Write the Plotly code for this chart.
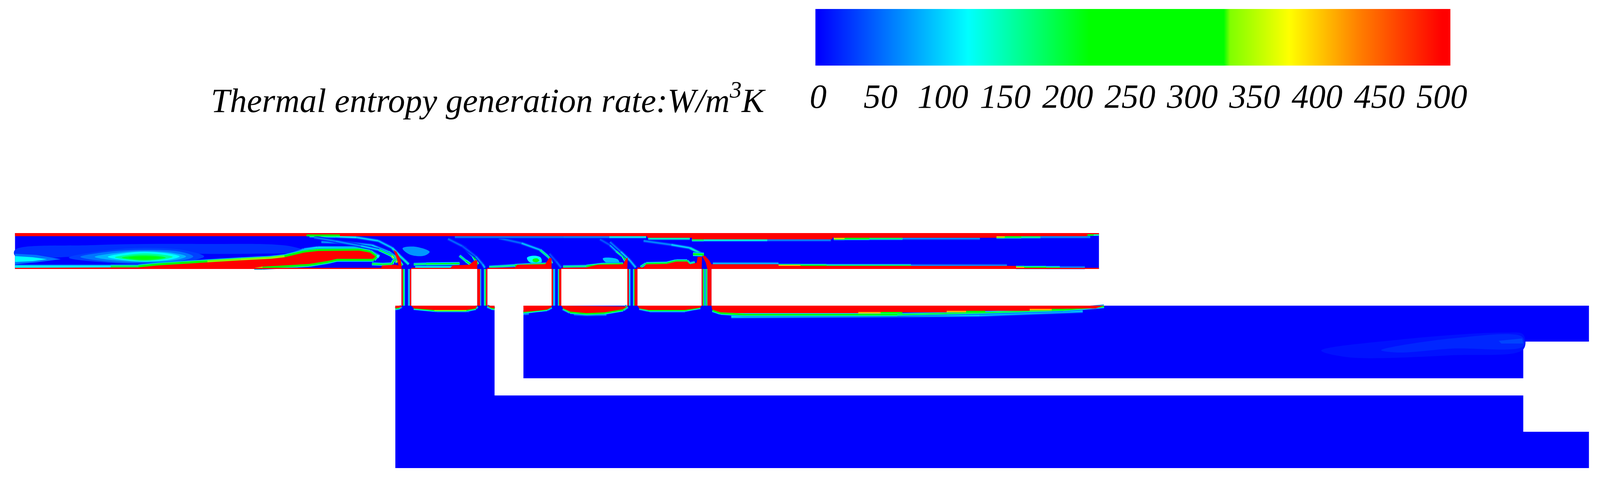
# Thermal entropy generation contour, outlines in pixels
import plotly.graph_objects as go
import plotly.colors as pc

# Legend
legend_title = "Thermal entropy generation rate:W/m<sup>3</sup>K"
tick_values = [0, 50, 100, 150, 200, 250, 300, 350, 400, 450, 500]
bar_range = [-2.3, 506.9]
stops = [[0, "rgb(0,0,255)"], [0.24, "rgb(0,255,255)"], [0.435, "rgb(0,255,0)"],
         [0.65, "rgb(0,255,0)"], [0.66, "rgb(128,255,0)"], [0.755, "rgb(255,255,0)"],
         [0.866, "rgb(255,128,0)"], [1, "rgb(255,0,0)"]]

# Flow domain outlines
channel_x = [41, 3045, 3045, 41]
channel_y = [597, 597, 689, 689]
pipe_left = [1112, 1322, 1528, 1738, 1944]
pipe_right = [1139, 1350, 1555, 1766, 1971]
wall_left_w = [4, 8, 4, 4, 3]
wall_right_w = [4, 4, 6, 8, 11]
upper_x = [1450, 4403, 4403, 4221, 4221, 1450]
upper_y = [783, 783, 875, 875, 969, 969]
lower_x = [1095, 1370, 1370, 4221, 4221, 4403, 4403, 1095]
lower_y = [783, 783, 1013, 1013, 1106, 1106, 1199, 1199]

# Faint and bright patches (outline, value)
tint_x = [41, 250, 550, 800, 850, 700, 350, 41]
tint_y = [640, 628, 625, 630, 645, 650, 650, 655]
blob0a_x = [41, 100, 168, 100, 41]
blob0a_y = [650, 653, 664, 672, 677]
blob0b_x = [41, 90, 130, 90, 41]
blob0b_y = [656, 659, 664, 669, 671]
blob1e_x = [190, 300, 400, 510, 565, 510, 400, 300]
blob1e_y = [660, 641, 635, 641, 657, 671, 676, 673]
blob1a_x = [222, 300, 400, 500, 535, 500, 400, 300]
blob1a_y = [658, 645, 640, 645, 657, 668, 673, 670]
blob1f_x = [262, 330, 400, 480, 515, 480, 400, 330]
blob1f_y = [658, 647, 643, 648, 657, 667, 671, 668]
blob1b_x = [298, 350, 400, 470, 497, 470, 400, 350]
blob1b_y = [658, 648, 645, 650, 657, 665, 670, 667]
blob1g_x = [318, 360, 400, 455, 478, 455, 400, 360]
blob1g_y = [659, 652, 649, 653, 658, 664, 668, 666]
blob1c_x = [337, 370, 400, 440, 459, 440, 400, 370]
blob1c_y = [660, 655, 654, 656, 660, 664, 667, 665]
blob1d_x = [355, 400, 445, 400]
blob1d_y = [660, 657, 660, 664]
blob2_x = [1115, 1150, 1190, 1175, 1135]
blob2_y = [636, 632, 645, 655, 652]
blob3a_x = [1460, 1480, 1498, 1500, 1482, 1465]
blob3a_y = [660, 655, 660, 672, 676, 670]
blob3b_x = [1476, 1488, 1494, 1486, 1476]
blob3b_y = [664, 662, 667, 672, 669]
blob4_x = [1670, 1690, 1712, 1716, 1700, 1678]
blob4_y = [662, 660, 665, 674, 676, 672]
wake_a_x = [3661, 3878, 4167, 4221, 4221, 4022, 3734]
wake_a_y = [898, 870, 852, 857, 895, 910, 915]
wake_b_x = [3827, 4022, 4218, 4221, 4022, 3878]
wake_b_y = [897, 867, 863, 887, 893, 903]
wake_c_x = [4153, 4218, 4221, 4160]
wake_c_y = [873, 867, 880, 880]

# Streaks: points and value along each one
edge_x = [41, 306, 383, 436, 505, 574, 666, 750, 788, 842, 880, 995, 1025, 1042, 1035, 933, 910, 857, 803, 727, 704]
edge_y = [683, 683, 683, 678, 674, 670, 665, 661, 657, 645, 641, 640, 645, 657, 665, 665, 670, 678, 681, 685, 685]
edge_v = [120, 120, 250, 330, 300, 330, 330, 340, 330, 300, 300, 260, 300, 300, 280, 280, 280, 300, 300, 330, 350]
glow_x = [800, 842, 880, 995, 1025, 1050]
glow_y = [655, 641, 636, 636, 645, 658]
glow_v = [110, 120, 120, 120, 120, 120]
arc1a_x = [857, 930, 987, 1048, 1086, 1109, 1132]
arc1a_y = [605, 606, 608, 617, 635, 657, 677]
arc1a_v = [150, 130, 110, 90, 100, 180, 110]
arc1b_x = [890, 960, 1030, 1075, 1101, 1114]
arc1b_y = [620, 622, 628, 645, 662, 680]
arc1b_v = [60, 90, 80, 110, 220, 300]
arc1c_x = [870, 930, 1000, 1050, 1085, 1100]
arc1c_y = [608, 618, 630, 640, 655, 672]
arc1c_v = [50, 70, 70, 120, 280, 420]
foot1_x = [1030, 1060, 1086, 1090, 1096]
foot1_y = [676, 677, 676, 667, 665]
foot1_v = [250, 250, 250, 250, 280]
seca_x = [1146, 1180, 1273]
seca_y = [677, 676, 675]
seca_v = [120, 250, 250]
secb0_x = [1150, 1258]
secb0_y = [684, 684]
secb0_v = [120, 130]
arc2a_x = [1241, 1286, 1311, 1324]
arc2a_y = [612, 633, 657, 677]
arc2a_v = [30, 70, 220, 300]
arc2b_x = [1273, 1290, 1305]
arc2b_y = [655, 668, 678]
arc2b_v = [110, 230, 250]
arc2c_x = [1280, 1318, 1337, 1343]
arc2c_y = [630, 657, 677, 686]
arc2c_v = [30, 50, 80, 90]
secb_x = [1355, 1426, 1470, 1528]
secb_y = [684, 680, 678, 676]
secb_v = [90, 250, 340, 250]
arc3a_x = [1382, 1445, 1496, 1522, 1528]
arc3a_y = [610, 623, 640, 660, 675]
arc3a_v = [30, 70, 110, 230, 250]
arc3b_x = [1522, 1541, 1554]
arc3b_y = [650, 670, 685]
arc3b_v = [30, 40, 50]
secc_x = [1560, 1624, 1670, 1726]
secc_y = [683, 682, 677, 676]
secc_v = [100, 250, 330, 250]
arc4a_x = [1662, 1690, 1707, 1726, 1733]
arc4a_y = [613, 628, 643, 657, 668]
arc4a_v = [30, 50, 110, 230, 250]
arc4b_x = [1690, 1720, 1745, 1761]
arc4b_y = [620, 645, 667, 685]
arc4b_v = [30, 80, 110, 70]
secd_x = [1775, 1790, 1847, 1873, 1904, 1911, 1925]
secd_y = [684, 675, 674, 668, 668, 675, 672]
secd_v = [120, 250, 250, 250, 250, 120, 200]
arc5a_x = [1783, 1860, 1911, 1943]
arc5a_y = [617, 627, 635, 650]
arc5a_v = [40, 90, 110, 180]
arc5b_x = [1920, 1950]
arc5b_y = [651, 652]
arc5b_v = [250, 250]

# Streaks along the top wall
top1_x = [1260, 1560, 1688, 1790]
top1_y = [607, 607, 607, 607]
top1_v = [30, 90, 40, 220]
top2_x = [1796, 1911]
top2_y = [611, 611]
top2_v = [60, 250]
top3_x = [1917, 1950, 2126, 2302]
top3_y = [615, 615, 615, 615]
top3_v = [200, 180, 100, 30]
top4_x = [2310, 2340, 2409, 2501, 2715]
top4_y = [611, 611, 611, 611, 611]
top4_v = [430, 370, 250, 120, 20]
top5_x = [2761, 2784, 2830, 2883, 3021]
top5_y = [607, 607, 607, 607, 607]
top5_v = [430, 370, 250, 120, 20]
top6_x = [3013, 3030, 3045]
top6_y = [603, 603, 603]
top6_v = [250, 200, 100]

# Streaks along the bottom wall, right of the last pipe
bot1_x = [1975, 2157]
bot1_y = [675, 675]
bot1_v = [130, 50]
bot2_x = [2157, 2218, 2290, 2524, 2790]
bot2_y = [680, 680, 680, 680, 680]
bot2_v = [430, 370, 250, 120, 20]
bot3_x = [2815, 2838, 2899, 2937, 3006]
bot3_y = [685, 685, 685, 685, 685]
bot3_v = [430, 370, 250, 120, 20]

# Streaks under the pipe outlets
out1_x = [1095, 1107, 1112]
out1_y = [791, 789, 785]
out1_v = [250, 150, 100]
out2_x = [1146, 1203, 1292, 1318, 1322]
out2_y = [790, 795, 795, 790, 785]
out2_v = [130, 370, 300, 250, 100]
out2b_x = [1210, 1300]
out2b_y = [797, 797]
out2b_v = [60, 50]
out3_x = [1350, 1360, 1370]
out3_y = [785, 789, 791]
out3_v = [100, 250, 300]
out4_x = [1450, 1477, 1516, 1528]
out4_y = [800, 797, 793, 787]
out4_v = [300, 250, 250, 100]
out4b_x = [1450, 1465]
out4b_y = [804, 803]
out4b_v = [120, 60]
out5b_x = [1590, 1624, 1680]
out5b_y = [804, 806, 805]
out5b_v = [120, 130, 120]
out5_x = [1560, 1579, 1624, 1675, 1726, 1738]
out5_y = [790, 799, 803, 801, 793, 785]
out5_v = [120, 250, 330, 280, 250, 120]
out6b_x = [1800, 1898]
out6b_y = [797, 797]
out6b_v = [120, 120]
out6_x = [1771, 1796, 1898, 1940]
out6_y = [790, 795, 795, 788]
out6_v = [120, 250, 250, 200]
out7b_x = [2026, 2715, 3000]
out7b_y = [811, 807, 797]
out7b_v = [100, 100, 80]
out7_x = [1974, 1996, 2065, 2486, 2715, 2945, 3059]
out7_y = [795, 802, 806, 806, 801, 794, 785]
out7_v = [200, 300, 250, 250, 130, 250, 200]

# Pipe inner streaks (x, value)
pipe_streak_x = [1118, 1133, 1330, 1344, 1535, 1549, 1744, 1757, 1949, 1957]
pipe_streak_v = [250, 120, 120, 250, 120, 250, 120, 220, 280, 250]

# Red zones
top_red_x = [41, 1793, 1793, 1917, 1917, 2306, 2306, 2761, 2761, 3013, 3013, 3045, 3045, 41]
top_red_y = [605, 605, 609, 609, 613, 613, 609, 609, 605, 605, 601, 601, 597, 597]
wedge_x = [41, 383, 436, 505, 574, 666, 750, 788, 842, 880, 995, 1025, 1040, 1033, 933, 910, 857, 803, 727, 704, 1056, 1058, 1095, 1112, 1112, 41]
wedge_y = [686, 685, 680, 676, 672, 667, 663, 659, 647, 643, 642, 647, 657, 663, 663, 668, 676, 679, 683, 686, 686, 680, 678, 682, 689, 689]
sliver_x = [1090, 1098, 1110, 1112, 1112, 1106, 1100]
sliver_y = [640, 645, 665, 682, 689, 689, 665]
red_a_x = [1139, 1248, 1254, 1300, 1315, 1322, 1322, 1139]
red_a_y = [686, 686, 680, 678, 667, 667, 689, 689]
red_b_x = [1350, 1426, 1433, 1510, 1522, 1528, 1528, 1350]
red_b_y = [686, 685, 678, 677, 660, 662, 689, 689]
red_c_x = [1555, 1624, 1656, 1726, 1735, 1739, 1738, 1555]
red_c_y = [686, 685, 678, 677, 662, 660, 689, 689]
red_d_x = [1766, 1783, 1790, 1847, 1873, 1904, 1911, 1930, 1933, 1945, 1944, 1766]
red_d_y = [685, 685, 677, 676, 670, 670, 677, 673, 658, 658, 689, 689]
plume_x = [1945, 1953, 1965, 1971, 1971, 1960, 1960, 1955]
plume_y = [655, 655, 667, 677, 783, 783, 690, 672]
red_e_x = [1971, 2157, 2157, 2815, 2815, 3045, 3045, 1971]
red_e_y = [677, 677, 681, 681, 686, 686, 689, 689]
out_red1_x = [1095, 1112, 1112, 1095]
out_red1_y = [783, 783, 787, 790]
out_red2_x = [1139, 1322, 1318, 1292, 1203, 1146]
out_red2_y = [783, 783, 790, 794, 794, 790]
out_red3_x = [1350, 1370, 1370, 1357]
out_red3_y = [783, 783, 790, 788]
out_red4_x = [1450, 1528, 1528, 1516, 1477, 1450]
out_red4_y = [783, 783, 787, 793, 797, 799]
out_red5_x = [1555, 1738, 1726, 1675, 1624, 1579, 1560]
out_red5_y = [783, 785, 792, 800, 802, 798, 790]
out_red6_x = [1766, 1944, 1940, 1898, 1796, 1771]
out_red6_y = [783, 783, 788, 794, 794, 790]
out_red7_x = [1971, 3059, 3036, 2853, 2853, 2623, 2623, 2378, 2378, 2042, 1996, 1973]
out_red7_y = [783, 783, 790, 792, 796, 796, 800, 800, 802, 802, 800, 793]

# Bits that sit on top of the red
notch_x = [849, 860, 935, 941]
notch_y = [603, 603, 603, 603]
notch_v = [380, 250, 250, 380]
step1_x = [2378, 2440, 2500]
step1_y = [801, 801, 801]
step1_v = [450, 370, 250]
step2_x = [2623, 2677, 2730]
step2_y = [798, 798, 798]
step2_v = [450, 370, 250]
step3_x = [2853, 2914, 2960]
step3_y = [793, 793, 793]
step3_v = [450, 370, 250]
end_x = [3013, 3030, 3045]
end_y = [602, 602, 602]
end_v = [250, 200, 100]


def colour(v):
    return pc.sample_colorscale(stops, [v / 500])[0]


fig = go.Figure()


def add_poly(xs, ys, v, smooth=False):
    fig.add_trace(go.Scatter(x=list(xs) + [xs[0]], y=list(ys) + [ys[0]], mode="lines", fill="toself",
                             fillcolor=colour(v), line=dict(width=0, shape="spline" if smooth else "linear"),
                             hoverinfo="skip", showlegend=False))


def add_streak(xs, ys, vs, w=3, halo=True):
    passes = [(w + 6, 0.2), (w + 3, 0.5), (w, 1)] if halo else [(w, 1)]
    for width, k in passes:
        for i in range(len(xs) - 1):
            fig.add_trace(go.Scatter(x=xs[i:i + 2], y=ys[i:i + 2], mode="lines",
                                     line=dict(width=width, color=colour(k * (vs[i] + vs[i + 1]) / 2)),
                                     hoverinfo="skip", showlegend=False))


# Blue base
add_poly(channel_x, channel_y, 0)
add_poly(upper_x, upper_y, 0)
add_poly(lower_x, lower_y, 0)
for left, right in zip(pipe_left, pipe_right):
    add_poly([left, right, right, left], [689, 689, 783, 783], 0)

# Patches
add_poly(tint_x, tint_y, 22, True)
add_poly(blob0a_x, blob0a_y, 55)
add_poly(blob0b_x, blob0b_y, 120)
add_poly(blob1e_x, blob1e_y, 30, True)
add_poly(blob1a_x, blob1a_y, 55, True)
add_poly(blob1f_x, blob1f_y, 85, True)
add_poly(blob1b_x, blob1b_y, 120, True)
add_poly(blob1g_x, blob1g_y, 160, True)
add_poly(blob1c_x, blob1c_y, 200, True)
add_poly(blob1d_x, blob1d_y, 250, True)
add_poly(blob2_x, blob2_y, 70, True)
add_poly(blob3a_x, blob3a_y, 120, True)
add_poly(blob3b_x, blob3b_y, 250, True)
add_poly(blob4_x, blob4_y, 90, True)
add_poly(wake_a_x, wake_a_y, 8, True)
add_poly(wake_b_x, wake_b_y, 18, True)
add_poly(wake_c_x, wake_c_y, 32)

# Streaks, the red zones go over them
add_streak(glow_x, glow_y, glow_v, 7)
add_streak(edge_x, edge_y, edge_v, 6)
add_streak(arc1a_x, arc1a_y, arc1a_v)
add_streak(arc1b_x, arc1b_y, arc1b_v)
add_streak(arc1c_x, arc1c_y, arc1c_v)
add_streak(foot1_x, foot1_y, foot1_v)
add_streak(secb0_x, secb0_y, secb0_v)
add_streak(seca_x, seca_y, seca_v)
add_streak(arc2a_x, arc2a_y, arc2a_v)
add_streak(arc2b_x, arc2b_y, arc2b_v)
add_streak(arc2c_x, arc2c_y, arc2c_v)
add_streak(secb_x, secb_y, secb_v)
add_streak(arc3a_x, arc3a_y, arc3a_v)
add_streak(arc3b_x, arc3b_y, arc3b_v)
add_streak(secc_x, secc_y, secc_v)
add_streak(arc4a_x, arc4a_y, arc4a_v)
add_streak(arc4b_x, arc4b_y, arc4b_v)
add_streak(secd_x, secd_y, secd_v)
add_streak(arc5a_x, arc5a_y, arc5a_v)
add_streak(arc5b_x, arc5b_y, arc5b_v, 5)
add_streak(top1_x, top1_y, top1_v)
add_streak(top2_x, top2_y, top2_v)
add_streak(top3_x, top3_y, top3_v)
add_streak(top4_x, top4_y, top4_v)
add_streak(top5_x, top5_y, top5_v)
add_streak(bot1_x, bot1_y, bot1_v)
add_streak(bot2_x, bot2_y, bot2_v)
add_streak(bot3_x, bot3_y, bot3_v)
add_streak(out1_x, out1_y, out1_v)
add_streak(out2b_x, out2b_y, out2b_v)
add_streak(out2_x, out2_y, out2_v)
add_streak(out3_x, out3_y, out3_v)
add_streak(out4b_x, out4b_y, out4b_v)
add_streak(out4_x, out4_y, out4_v)
add_streak(out5b_x, out5b_y, out5b_v)
add_streak(out5_x, out5_y, out5_v, 5)
add_streak(out6b_x, out6b_y, out6b_v)
add_streak(out6_x, out6_y, out6_v)
add_streak(out7b_x, out7b_y, out7b_v, 5)
add_streak(out7_x, out7_y, out7_v, 4)
for px, pv in zip(pipe_streak_x, pipe_streak_v):
    add_streak([px, px], [689, 783], [pv, pv], 2)

# Red zones and pipe walls
for xs, ys in [(top_red_x, top_red_y), (wedge_x, wedge_y), (sliver_x, sliver_y), (red_a_x, red_a_y),
               (red_b_x, red_b_y), (red_c_x, red_c_y), (red_d_x, red_d_y), (plume_x, plume_y),
               (red_e_x, red_e_y), (out_red1_x, out_red1_y), (out_red2_x, out_red2_y),
               (out_red3_x, out_red3_y), (out_red4_x, out_red4_y), (out_red5_x, out_red5_y),
               (out_red6_x, out_red6_y), (out_red7_x, out_red7_y)]:
    add_poly(xs, ys, 500)
for left, right, wl, wr in zip(pipe_left, pipe_right, wall_left_w, wall_right_w):
    add_poly([left, left + wl, left + wl, left], [689, 689, 783, 783], 500)
    add_poly([right - wr, right, right, right - wr], [689, 689, 783, 783], 500)

add_streak(notch_x, notch_y, notch_v, 5, False)
add_streak(step1_x, step1_y, step1_v, 4, False)
add_streak(step2_x, step2_y, step2_v, 4, False)
add_streak(step3_x, step3_y, step3_v, 4, False)
add_streak(end_x, end_y, end_v, 4, False)

# Colour bar, on its own axes so the ticks come from the value scale
fig.add_trace(go.Heatmap(z=[tick_values, tick_values], x=tick_values, y=[0, 1], colorscale=stops, zmin=0, zmax=500,
                         zsmooth="best", showscale=False, hoverinfo="skip", xaxis="x2", yaxis="y2"))

label_font = dict(family="Liberation Serif", size=87, color="black", style="italic")
fig.add_annotation(text=legend_title, x=2125, y=308, xref="x", yref="y", xanchor="right", yanchor="bottom",
                   showarrow=False, font=label_font)

# the page fills the window with an 8 px body margin, so the ranges skip that strip
W, H, M = 4433, 1227, 8
fig.update_layout(
    margin=dict(l=0, r=0, t=0, b=0, autoexpand=False),
    paper_bgcolor="white", plot_bgcolor="white", showlegend=False,
    xaxis=dict(range=[M, W - M], visible=False, fixedrange=True, automargin=False),
    yaxis=dict(range=[H - M, M], visible=False, fixedrange=True, automargin=False),
    xaxis2=dict(domain=[(2259 - M) / (W - 2 * M), (4019 - M) / (W - 2 * M)], range=bar_range, anchor="y2",
                tickmode="array", tickvals=tick_values, ticks="outside", ticklen=3, tickcolor="white",
                showgrid=False, zeroline=False, showline=False, tickfont=label_font, automargin=False),
    yaxis2=dict(domain=[1 - (168 - M) / (H - 2 * M), 1 - (23 - M) / (H - 2 * M)], range=[0, 1], anchor="x2",
                visible=False, automargin=False),
)

fig.write_html("out.html")
